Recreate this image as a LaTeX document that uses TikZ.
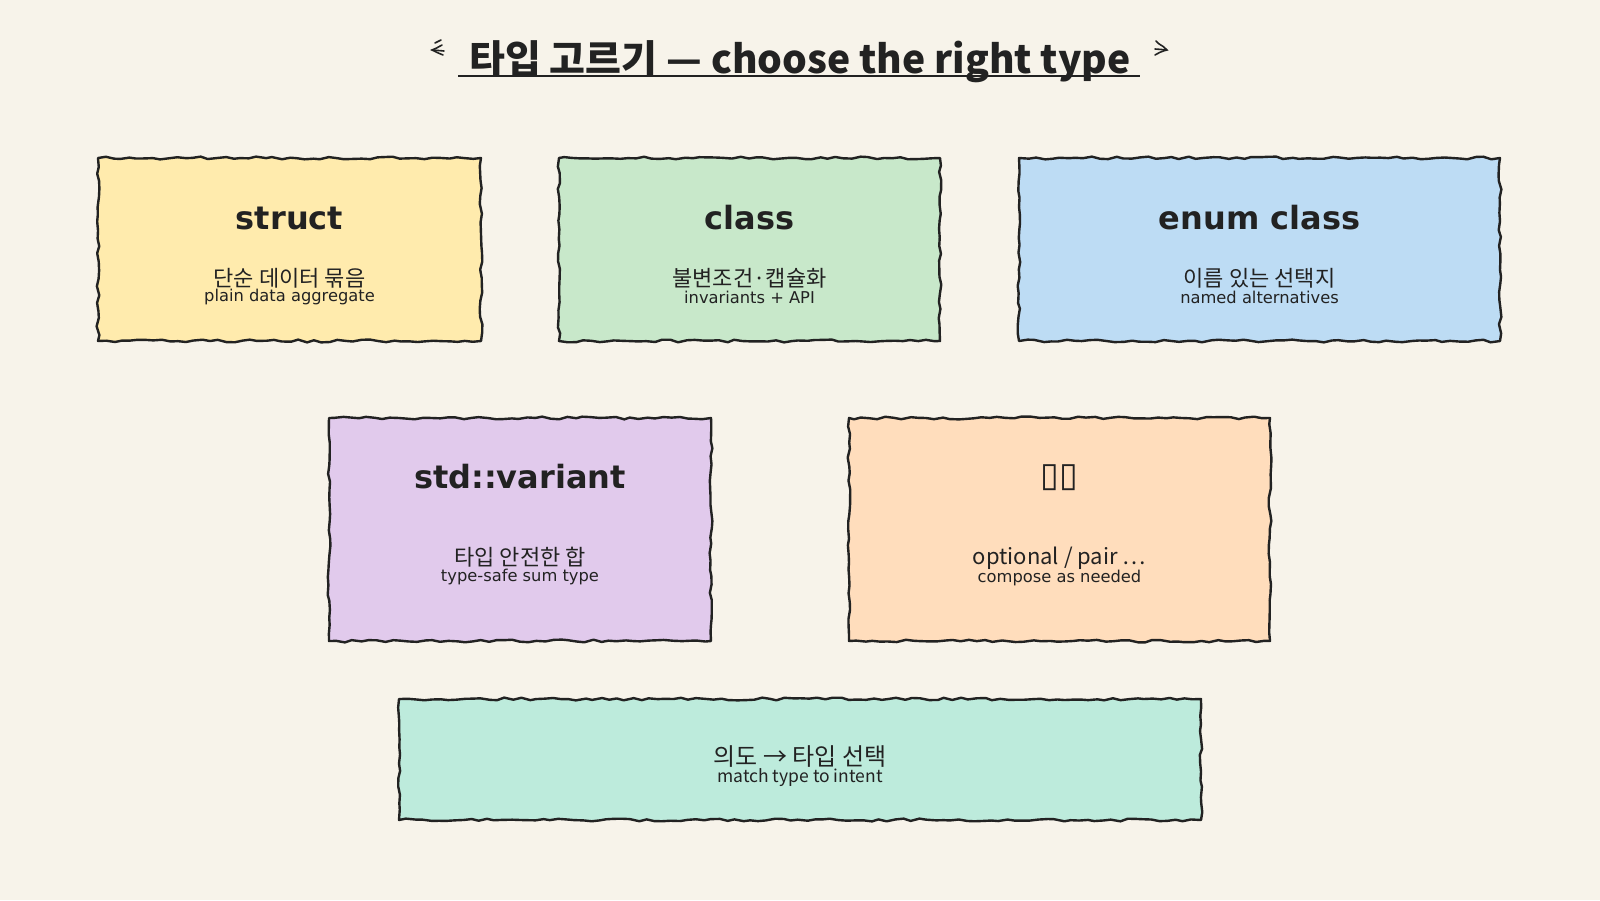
\documentclass[tikz,border=0pt]{standalone}
\usepackage{fontspec}
\usetikzlibrary{decorations.pathmorphing}
\newfontfamily\dvs{DejaVu Sans}
\newfontfamily\kr{Noto Sans CJK KR}
\definecolor{bgc}{HTML}{F7F3EA}
\definecolor{ink}{HTML}{222222}
\definecolor{cstruct}{HTML}{FFEBAD}
\definecolor{cclass}{HTML}{C8E8CA}
\definecolor{cenum}{HTML}{BDDCF4}
\definecolor{cvar}{HTML}{E1CAEC}
\definecolor{cother}{HTML}{FFDDBC}
\definecolor{cbottom}{HTML}{BDEBDC}
\tikzset{
  roughbox/.style={draw=ink, line width=2.4pt, inner sep=0pt, line join=round,
    decorate, decoration={random steps, segment length=8pt, amplitude=1.4pt}},
  head/.style={text=ink, font=\dvs\bfseries\fontsize{32}{36}\selectfont, inner sep=0pt},
  krsub/.style={text=ink, font=\kr\fontsize{22}{25}\selectfont, inner sep=0pt},
  ensub/.style={text=ink, font=\dvs\fontsize{16.3}{18}\selectfont, inner sep=0pt},
  roughline/.style={draw=ink, line width=1.6pt, line cap=round,
    decorate, decoration={random steps, segment length=5pt, amplitude=0.6pt}}
}
\begin{document}
\begin{tikzpicture}[x=1pt,y=-1pt]
\pgfmathsetseed{7}
\fill[bgc] (0,0) rectangle (1600,900);
\useasboundingbox (0,0) rectangle (1600,900);

% title
\node[text=ink, font=\kr\bfseries\fontsize{39}{45}\selectfont, inner sep=0pt, anchor=base] (title) at (800,73) {타입 고르기 — choose the right type};
\coordinate (ulA) at (458,76);
\coordinate (ulB) at (1140,76);
\draw[ink, line width=2pt] (ulA) -- (ulB);
% little hand-drawn arrows
\coordinate (la) at (436,49);
\coordinate (ra) at (1162,49);
\draw[roughline] ([xshift=7pt,yshift=-6pt]la) -- ([xshift=-4pt,yshift=-1pt]la) -- ([xshift=6pt,yshift=4pt]la);
\draw[roughline] ([xshift=-3pt,yshift=-1pt]la) -- ([xshift=8pt,yshift=-2pt]la);
\draw[roughline] ([xshift=-1pt,yshift=6pt]la) -- ([xshift=5pt,yshift=9pt]la);
\draw[roughline] ([xshift=-7pt,yshift=-6pt]ra) -- ([xshift=5pt,yshift=-1pt]ra) -- ([xshift=-6pt,yshift=8pt]ra);
\draw[roughline] ([xshift=-7pt,yshift=0pt]ra) -- ([xshift=4pt,yshift=-1pt]ra);

% boxes
\node[roughbox, fill=cstruct, minimum width=383pt, minimum height=183pt] (bstruct) at (289.5,249.5) {};
\node[roughbox, fill=cclass, minimum width=381pt, minimum height=183pt] (bclass) at (749.5,249.5) {};
\node[roughbox, fill=cenum, minimum width=481pt, minimum height=183pt] (benum) at (1259.5,249.5) {};
\node[roughbox, fill=cvar, minimum width=382pt, minimum height=223pt] (bvar) at (520,529.5) {};
\node[roughbox, fill=cother, minimum width=421pt, minimum height=223pt] (bother) at (1059.5,529.5) {};
\node[roughbox, fill=cbottom, minimum width=802pt, minimum height=121pt] (bbottom) at (800,759.5) {};

% struct
\node[head] (hstruct) at (289.5,218) {struct};
\node[krsub] (kstruct) at (289.5,278) {단순 데이터 묶음};
\node[ensub] (estruct) at (289.5,297) {plain data aggregate};
% class
\node[head] (hclass) at (749.5,218) {class};
\node[krsub] (kclass) at (749.5,278) {불변조건·캡슐화};
\node[ensub] (eclass) at (749.5,297) {invariants + API};
% enum
\node[head] (henum) at (1259.5,218) {enum class};
\node[krsub] (kenum) at (1259.5,278) {이름 있는 선택지};
\node[ensub] (eenum) at (1259.5,297) {named alternatives};
% variant
\node[head] (hvar) at (520,477) {std::variant};
\node[krsub] (kvar) at (520,557) {타입 안전한 합};
\node[ensub] (evar) at (520,577) {type-safe sum type};
% other
\node[text=ink, font=\dvs\fontsize{34}{38}\selectfont, inner sep=0pt] (hother) at (1059.5,478) {▯▯};
\node[krsub] (kother) at (1059.5,558) {optional / pair …};
\node[ensub] (eother) at (1059.5,578) {compose as needed};
% bottom
\node[text=ink, font=\kr\fontsize{24}{27}\selectfont, inner sep=0pt] (kbottom) at (800,757) {의도 → 타입 선택};
\node[text=ink, font=\kr\fontsize{17.5}{20}\selectfont, inner sep=0pt] (ebottom) at (800,778) {match type to intent};
\end{tikzpicture}
\end{document}
